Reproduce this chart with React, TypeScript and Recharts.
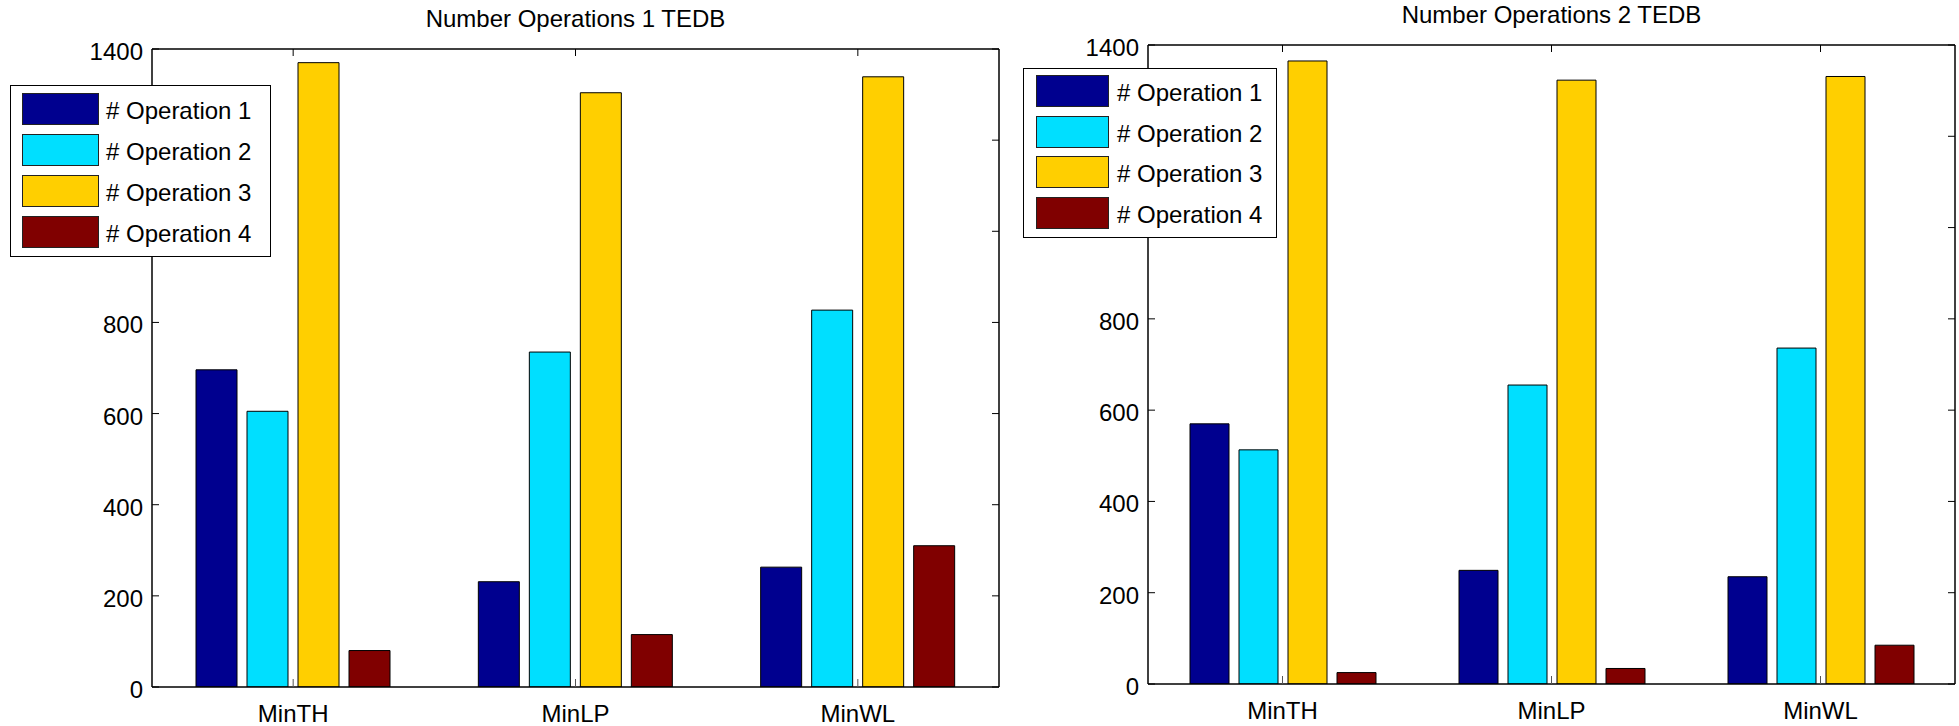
import React from 'react'
import { BarChart, Bar, XAxis, YAxis, Legend } from 'recharts'

const categories = ['MinTH', 'MinLP', 'MinWL']
const yTicks = [0, 200, 400, 600, 800, 1000, 1200, 1400]
// tick labels that sit under the legend box in the original figure
const coveredTickLabels = [1000, 1200]
const seriesNames = ['# Operation 1', '# Operation 2', '# Operation 3', '# Operation 4']
const seriesColors = ['#00008f', '#00dfff', '#ffcf00', '#800000']

// Number Operations 1 TEDB
const tedb1Op1 = [696, 231, 263]
const tedb1Op2 = [605, 735, 827]
const tedb1Op3 = [1370, 1304, 1339]
const tedb1Op4 = [80, 115, 310]

// Number Operations 2 TEDB
const tedb2Op1 = [570, 249, 235]
const tedb2Op2 = [513, 655, 736]
const tedb2Op3 = [1365, 1323, 1331]
const tedb2Op4 = [25, 34, 85]

const FONT = '"Liberation Sans", Arial, Helvetica, sans-serif'
const FONT_SIZE = 24
const AXIS = { stroke: '#000', strokeWidth: 1.5 }
const TICK_LEN = 7

const buildRows = (series: number[][]) =>
  categories.map((name, i) => {
    const row: Record<string, any> = { name }
    series.forEach((s, k) => {
      row[`op${k + 1}`] = s[i]
    })
    return row
  })

const rows1 = buildRows([tedb1Op1, tedb1Op2, tedb1Op3, tedb1Op4])
const rows2 = buildRows([tedb2Op1, tedb2Op2, tedb2Op3, tedb2Op4])

type LegendBox = {
  left: number
  top: number
  width: number
  height: number
  swatchLeft: number
  swatchWidth: number
  firstTop: number
  pitch: number
  textGap: number
}

type PanelProps = {
  title: string
  rows: Record<string, any>[]
  left: number
  width: number
  margin: { top: number; right: number; bottom: number; left: number }
  barSize: number
  titleTop: number
  legend: LegendBox
}

// left axis: label outside, tick pointing into the plot
const LeftTick = ({ x, y, payload }: any) => (
  <g>
    <line x1={x} x2={x + TICK_LEN} y1={y} y2={y} stroke="#000" strokeWidth={1} />
    {!coveredTickLabels.includes(payload.value) && (
      <text
        x={x - 9}
        y={y + 11}
        textAnchor="end"
        fontFamily={FONT}
        fontSize={FONT_SIZE}
        fill="#000"
      >
        {payload.value}
      </text>
    )}
  </g>
)

const RightTick = ({ x, y }: any) => (
  <line x1={x} x2={x - TICK_LEN} y1={y} y2={y} stroke="#000" strokeWidth={1} />
)

const TopTick = ({ x, y }: any) => (
  <line x1={x} x2={x} y1={y} y2={y + TICK_LEN} stroke="#000" strokeWidth={1} />
)

const BottomTick = ({ x, y, payload }: any) => (
  <g>
    <line x1={x} x2={x} y1={y} y2={y - 8} stroke="#555" strokeWidth={1} />
    <text
      x={x}
      y={y + 35}
      textAnchor="middle"
      fontFamily={FONT}
      fontSize={FONT_SIZE}
      fill="#000"
    >
      {payload.value}
    </text>
  </g>
)

const makeLegend = (box: LegendBox) => ({ payload }: any) => (
  <div
    style={{
      position: 'relative',
      width: box.width,
      height: box.height,
      background: '#fff',
      border: '1.5px solid #000',
      boxSizing: 'border-box',
      fontFamily: FONT,
      fontSize: FONT_SIZE,
      color: '#000',
    }}
  >
    {(payload || []).map((entry: any, i: number) => (
      <div
        key={entry.value}
        style={{
          position: 'absolute',
          left: box.swatchLeft,
          top: box.firstTop + i * box.pitch,
          height: 32,
          display: 'flex',
          alignItems: 'center',
          whiteSpace: 'nowrap',
        }}
      >
        <div
          style={{
            width: box.swatchWidth,
            height: 32,
            background: entry.color,
            border: '1px solid #222',
            boxSizing: 'border-box',
          }}
        />
        <span style={{ marginLeft: box.textGap, lineHeight: 1, paddingTop: 4 }}>
          {entry.value}
        </span>
      </div>
    ))}
  </div>
)

const Panel: React.FC<PanelProps> = ({
  title,
  rows,
  left,
  width,
  margin,
  barSize,
  titleTop,
  legend,
}) => {
  const plotLeft = margin.left + 60
  const plotWidth = width - plotLeft - margin.right - 1
  return (
    <div style={{ position: 'absolute', left, top: 0, width, height: 726 }}>
      <div
        style={{
          position: 'absolute',
          left: plotLeft,
          width: plotWidth,
          top: titleTop,
          textAlign: 'center',
          fontFamily: FONT,
          fontSize: FONT_SIZE,
          lineHeight: `${FONT_SIZE}px`,
          color: '#000',
        }}
      >
        {title}
      </div>
      <BarChart
        width={width}
        height={726}
        data={rows}
        margin={margin}
        barSize={barSize}
        barGap={10}
      >
        <XAxis
          xAxisId="bottom"
          dataKey="name"
          orientation="bottom"
          height={38}
          tickSize={0}
          tickMargin={0}
          tickLine={false}
          axisLine={AXIS}
          tick={<BottomTick />}
          interval={0}
        />
        <XAxis
          xAxisId="top"
          dataKey="name"
          orientation="top"
          height={1}
          tickSize={0}
          tickMargin={0}
          tickLine={false}
          axisLine={AXIS}
          tick={<TopTick />}
          interval={0}
        />
        <YAxis
          yAxisId="left"
          orientation="left"
          width={60}
          domain={[0, 1400]}
          ticks={yTicks}
          allowDataOverflow
          tickSize={0}
          tickMargin={0}
          tickLine={false}
          axisLine={AXIS}
          tick={<LeftTick />}
          interval={0}
        />
        <YAxis
          yAxisId="right"
          orientation="right"
          width={1}
          domain={[0, 1400]}
          ticks={yTicks}
          allowDataOverflow
          tickSize={0}
          tickMargin={0}
          tickLine={false}
          axisLine={AXIS}
          tick={<RightTick />}
          interval={0}
        />
        <Legend
          layout="vertical"
          align="center"
          verticalAlign="middle"
          content={makeLegend(legend)}
          wrapperStyle={{
            left: legend.left,
            top: legend.top,
            width: legend.width,
            height: legend.height,
          }}
        />
        {seriesNames.map((name, k) => (
          <Bar
            key={name}
            xAxisId="bottom"
            yAxisId="left"
            dataKey={`op${k + 1}`}
            name={name}
            fill={seriesColors[k]}
            stroke="#000"
            strokeWidth={1}
            isAnimationActive={false}
          />
        ))}
      </BarChart>
    </div>
  )
}

const App: React.FC = () => (
  <div
    style={{
      position: 'absolute',
      left: 0,
      top: 0,
      width: 1959,
      height: 726,
      background: '#fff',
      overflow: 'hidden',
    }}
  >
    <Panel
      title="Number Operations 1 TEDB"
      rows={rows1}
      left={0}
      width={1000}
      margin={{ top: 48, right: 0, bottom: 1, left: 92 }}
      barSize={41}
      titleTop={7}
      legend={{
        left: 10,
        top: 85,
        width: 261,
        height: 172,
        swatchLeft: 11,
        swatchWidth: 77,
        firstTop: 7,
        pitch: 41,
        textGap: 7,
      }}
    />
    <Panel
      title="Number Operations 2 TEDB"
      rows={rows2}
      left={1000}
      width={959}
      margin={{ top: 44, right: 3, bottom: 4, left: 88 }}
      barSize={39}
      titleTop={3}
      legend={{
        left: 23,
        top: 68,
        width: 254,
        height: 170,
        swatchLeft: 12,
        swatchWidth: 73,
        firstTop: 6,
        pitch: 40.5,
        textGap: 8,
      }}
    />
  </div>
)

export default App
